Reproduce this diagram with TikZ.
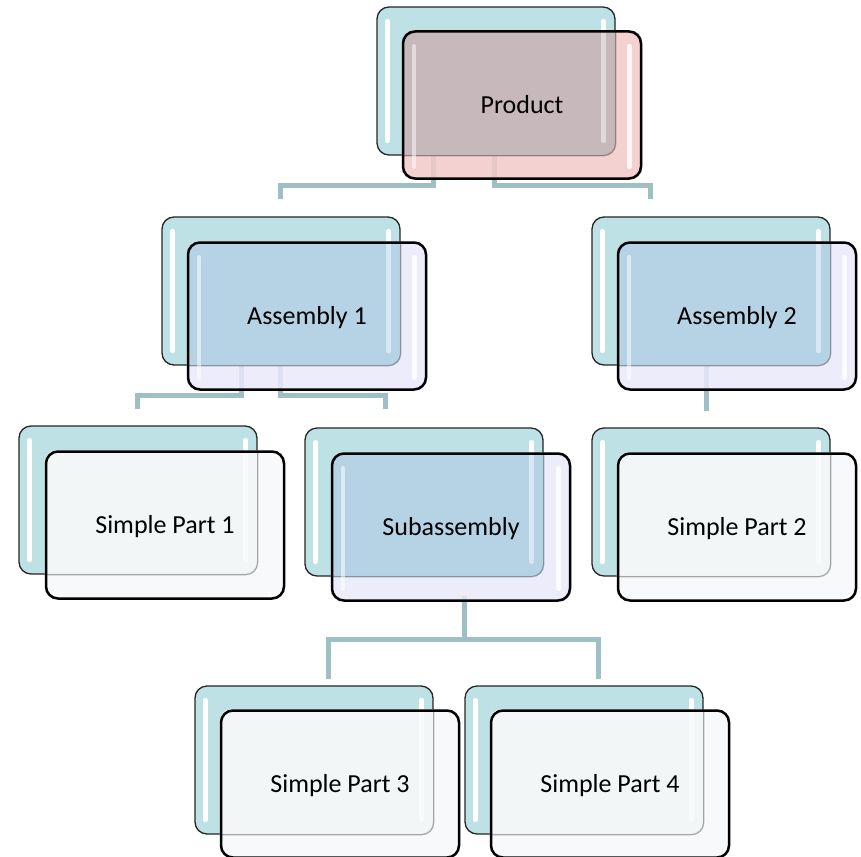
\documentclass[tikz,border=0pt]{standalone}
\usepackage{fontspec}
\setmainfont{Carlito}
\usetikzlibrary{calc}
\pgfdeclarelayer{lback}
\pgfdeclarelayer{lconn}
\pgfdeclarelayer{lfill}
\pgfdeclarelayer{lover}
\pgfsetlayers{lback,lconn,lfill,lover,main}
\definecolor{teal0}{HTML}{BDE1E4}
\definecolor{connc}{HTML}{9EC0C5}
\definecolor{pinkf}{HTML}{F3C9C9}
\definecolor{pinko}{HTML}{C2B5B8}
\definecolor{lavf}{HTML}{E9E9FB}
\definecolor{lavo}{HTML}{AFD0E3}
\definecolor{whf}{HTML}{F6F9FA}
\definecolor{who}{HTML}{F3F7F8}
\tikzset{
 backbox/.style={draw=black!85, line width=1.3pt, fill=teal0, rounded corners=12pt, minimum width=238pt, minimum height=148pt, inner sep=0pt},
 frontbox/.style={draw=black, line width=2.5pt, rounded corners=12pt, minimum width=238pt, minimum height=147pt, inner sep=0pt, font=\fontsize{26}{30}\selectfont, text depth=2pt},
 strip/.style={white, line width=5pt, line cap=round},
 conn/.style={connc, line width=5pt},
}
\newcommand\mkback[2]{%
 \begin{pgfonlayer}{lback}
 \node[backbox] (#1b) at (#2) {};
 \draw[strip] ($(#1b.north west)+(11,15)$) -- ($(#1b.south west)+(11,-15)$);
 \draw[strip] ($(#1b.north east)+(-12,15)$) -- ($(#1b.south east)+(-12,-15)$);
 \end{pgfonlayer}}
\newcommand\mkfront[6]{%
 \node[frontbox] (#1) at (#2) {#5};
 \begin{pgfonlayer}{lfill}
 \fill[#3, fill opacity=.85, rounded corners=12pt] (#1.south west) rectangle (#1.north east);
 \end{pgfonlayer}
 \begin{pgfonlayer}{lover}
 \begin{scope}
 \clip[rounded corners=12pt] (#1b.south west) rectangle (#1b.north east);
 \fill[#4, fill opacity=.85, rounded corners=12pt] (#1.south west) rectangle (#1.north east);
 \end{scope}
 \begin{scope}
 \clip[rounded corners=12pt] (#1.south west) rectangle (#1.north east);
 \draw[black, opacity=.3, line width=1.3pt, rounded corners=12pt] (#1b.south west) rectangle (#1b.north east);
 \draw[strip, opacity=.45] ($(#1b.north east)+(-12,15)$) -- ($(#1b.south east)+(-12,-15)$);
 \end{scope}
 \ifnum#6=1
 \draw[strip, line width=4.5pt, opacity=.5] ($(#1.north west)+(12,16)$) -- ($(#1.south west)+(12,-13)$);
 \draw[strip, line width=4.5pt, opacity=.85] ($(#1.north east)+(-13,16)$) -- ($(#1.south east)+(-13,-13)$);
 \fi
 \end{pgfonlayer}}
\begin{document}
\begin{tikzpicture}[x=1pt,y=-1pt]
\useasboundingbox (0,0) rectangle (861,856);
\begin{pgfonlayer}{lback}
\fill[white] (0,0) rectangle (861,856);
\end{pgfonlayer}
% back boxes
\mkback{prod}{496,81}
\mkback{a1}{281,291}
\mkback{a2}{711,291}
\mkback{sp1}{138,500}
\mkback{sub}{424,502}
\mkback{sp2}{711,502}
\mkback{sp3}{314,760}
\mkback{sp4}{584,760}
% front boxes
\mkfront{prod}{522,105}{pinkf}{pinko}{Product}{1}
\mkfront{a1}{307,316}{lavf}{lavo}{Assembly 1}{1}
\mkfront{a2}{737,316}{lavf}{lavo}{Assembly 2}{1}
\mkfront{sp1}{165,525}{whf}{who}{Simple Part 1}{0}
\mkfront{sub}{451,527}{lavf}{lavo}{Subassembly}{1}
\mkfront{sp2}{737,527}{whf}{who}{Simple Part 2}{0}
\mkfront{sp3}{340,784}{whf}{who}{Simple Part 3}{0}
\mkfront{sp4}{610,784}{whf}{who}{Simple Part 4}{0}
% connectors
\begin{pgfonlayer}{lconn}
\draw[conn] ($(prodb.south)+(-63,0)$) -- ++(0,30) -| ($(a1b.north)+(-1,-17)$);
\draw[conn] ($(prodb.south)+(-2,0)$) -- ++(0,30) -| ($(a2b.north)+(-61,-17)$);
\draw[conn] ($(a1b.south)+(-40,0)$) -- ++(0,30) -| ($(sp1b.north)+(-1,-16)$);
\draw[conn] ($(a1b.south)+(-1,0)$) -- ++(0,30) -| ($(subb.north)+(-39,-18)$);
\draw[conn] ($(a2b.south)+(-5,0)$) -- ($(sp2b.north)+(-5,-16)$);
\draw[conn] ($(sub.south)+(13,-6)$) -- ++(0,44) -| ($(sp3b.north)+(14,-6)$);
\draw[conn] ($(sub.south)+(13,-6)$) -- ++(0,44) -| ($(sp4b.north)+(14,-6)$);
\end{pgfonlayer}
\end{tikzpicture}
\end{document}
